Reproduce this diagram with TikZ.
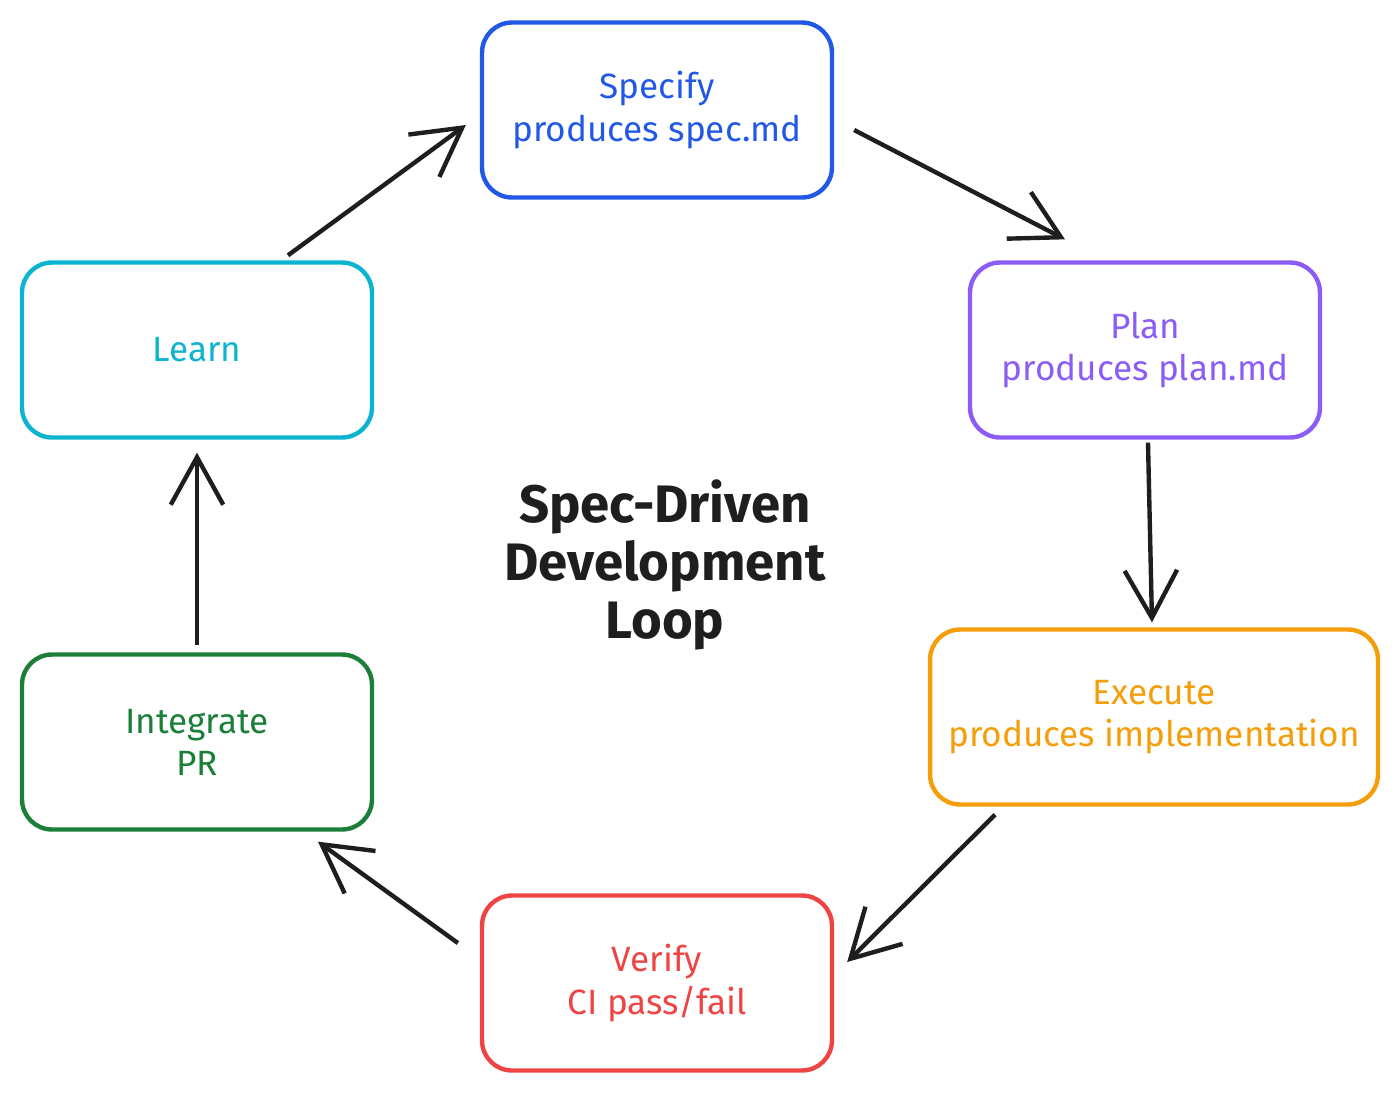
\documentclass[tikz,border=0pt]{standalone}
\usepackage{fontspec}
\setmainfont{Fira Sans}
\usetikzlibrary{arrows.meta}
\definecolor{cblue}{HTML}{2258E6}
\definecolor{cpurple}{HTML}{8B5CF6}
\definecolor{corange}{HTML}{F59E0B}
\definecolor{cred}{HTML}{EF4444}
\definecolor{cgreen}{HTML}{1B7F3A}
\definecolor{ccyan}{HTML}{0DB4CF}
\definecolor{cink}{HTML}{1E1E1E}
\begin{document}
\begin{tikzpicture}[x=0.02cm,y=-0.02cm,
  box/.style={draw=#1,text=#1,line width=2.5pt,rounded corners=0.6cm,minimum width=7cm,minimum height=3.5cm,align=center,font=\fontsize{20}{24}\selectfont,inner sep=2pt},
  arr/.style={draw=cink,line width=2.5pt,-{Straight Barb[length=0.95cm,width=1.05cm,line width=2.5pt]}}]
\useasboundingbox (0,0) rectangle (1400,1093);
\node[box=cblue] (spec) at (657,110) {Specify\\produces spec.md};
\node[box=cpurple] (plan) at (1145,350) {Plan\\produces plan.md};
\node[box=corange,minimum width=8.96cm] (exec) at (1154,717) {Execute\\produces implementation};
\node[box=cred] (ver) at (657,983) {Verify\\CI pass/fail};
\node[box=cgreen] (int) at (197,742) {Integrate\\PR};
\node[box=ccyan] (learn) at (197,350) {Learn};
\node[align=center,text=cink,font=\fontsize{30}{33}\selectfont\bfseries] (title) at (665,565) {Spec-Driven\\Development\\Loop};
\draw[arr] ([xshift=1.82cm,yshift=0.1cm]learn.north) -- ([xshift=-0.28cm,yshift=-0.3cm]spec.west);
\draw[arr] ([xshift=0.4cm,yshift=-0.4cm]spec.east) -- ([xshift=-1.6cm,yshift=0.42cm]plan.north);
\draw[arr] ([xshift=0.06cm,yshift=-0.06cm]plan.south) -- ([xshift=-0.04cm,yshift=0.1cm]exec.north);
\draw[arr] ([xshift=-3.18cm,yshift=-0.16cm]exec.south) -- ([xshift=0.26cm,yshift=0.42cm]ver.east);
\draw[arr] ([xshift=-0.44cm,yshift=0.8cm]ver.west) -- ([xshift=2.42cm,yshift=-0.2cm]int.south);
\draw[arr] ([yshift=0.14cm]int.north) -- ([yshift=-0.26cm]learn.south);
\end{tikzpicture}
\end{document}
